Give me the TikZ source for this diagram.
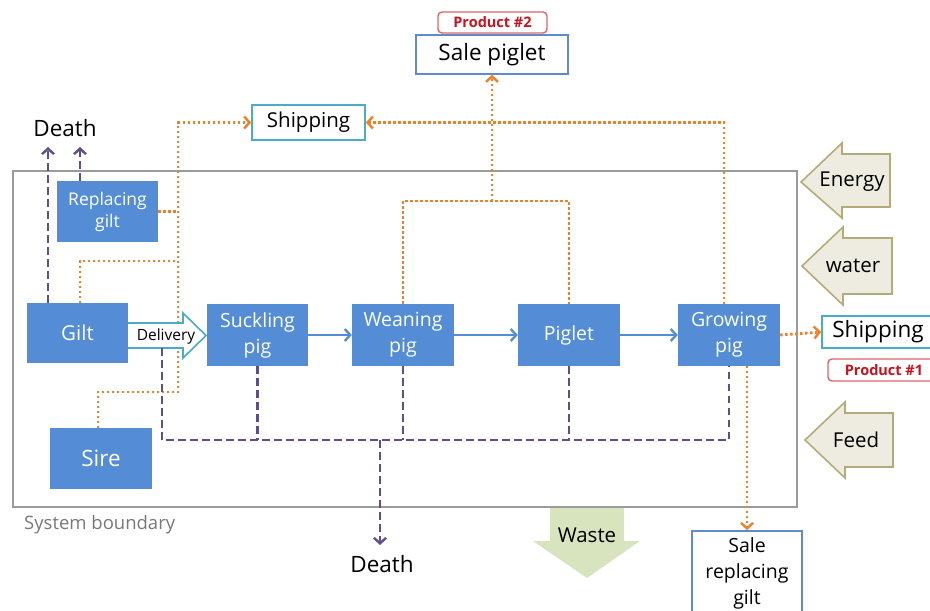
\documentclass[tikz,border=0pt]{standalone}
\usepackage{fontspec}
\setmainfont{Open Sans}
\usetikzlibrary{arrows.meta}
\definecolor{boxblue}{RGB}{84,141,213}
\definecolor{dpurple}{RGB}{96,78,140}
\definecolor{dorange}{RGB}{240,128,40}
\definecolor{teal}{RGB}{75,172,198}
\definecolor{salebl}{RGB}{95,140,200}
\definecolor{prodred}{RGB}{200,20,30}
\definecolor{prodborder}{RGB}{220,100,110}
\definecolor{bgray}{RGB}{155,155,155}
\definecolor{tgray}{RGB}{120,120,120}
\definecolor{beige}{RGB}{238,236,225}
\definecolor{beigeedge}{RGB}{180,172,120}
\definecolor{wastegreen}{RGB}{215,228,189}
\begin{document}
\begin{tikzpicture}[x=1pt,y=-1pt,
  fs/.style n args={2}{font=\fontsize{#1}{#2}\selectfont},
  bbox/.style={fill=boxblue,text=white,inner sep=0pt,align=center},
  wbox/.style={fill=white,inner sep=0pt,align=center,line width=1.6pt},
  prod/.style={draw=prodborder,fill=white,rounded corners=4pt,line width=1.4pt,text=prodred,inner sep=0pt,font=\fontsize{14.5}{16}\selectfont\bfseries},
  pdash/.style={draw=dpurple,line width=2.6pt,dash pattern=on 7.5pt off 4.5pt},
  odot/.style={draw=dorange,line width=2.8pt,dash pattern=on 2.4pt off 2.6pt},
  tip/.style={-{Straight Barb[length=5.5pt,width=12pt,line width=2.4pt]}},
  bluearrow/.style={draw=boxblue,line width=2.3pt,-{Straight Barb[length=5.5pt,width=12pt,line width=2.3pt]}},
  inarrow/.style={fill=beige,draw=beigeedge,line width=1.6pt,line join=miter}
]
\useasboundingbox (0,0) rectangle (930,611);

% system boundary
\draw[bgray,line width=2.4pt] (13,171) rectangle (797,507);
\node[text=tgray,fs={18.5}{22},anchor=west,inner sep=0pt] (sysb) at (24,525) {System boundary};

% boxes
\node[bbox,minimum width=101pt,minimum height=61pt,fs={17.5}{22}] (rg) at (107.5,211.5) {Replacing\\gilt};
\node[bbox,minimum width=101pt,minimum height=60pt,fs={20.5}{26}] (gilt) at (77.5,333) {Gilt};
\node[bbox,minimum width=101pt,minimum height=62pt,fs={19.5}{26}] (suck) at (257.5,335) {Suckling\\pig};
\node[bbox,minimum width=102pt,minimum height=62pt,fs={19.5}{26}] (wean) at (403,335) {Weaning\\pig};
\node[bbox,minimum width=102pt,minimum height=62pt,fs={19.5}{26}] (piglet) at (569,335) {Piglet};
\node[bbox,minimum width=102pt,minimum height=62pt,fs={19.5}{26}] (grow) at (729,335) {Growing\\pig};
\node[bbox,minimum width=102pt,minimum height=61pt,fs={22.5}{26}] (sire) at (101,458.5) {Sire};

\node[wbox,draw=teal,minimum width=113pt,minimum height=35pt,fs={20.5}{24}] (ship1) at (308.5,122.5) {Shipping};
\node[wbox,draw=salebl,minimum width=152pt,minimum height=39pt,fs={22.5}{26}] (salep) at (492,54.5) {Sale piglet};
\node[prod,minimum width=109pt,minimum height=21pt] (prod2) at (492.5,22.5) {Product \#2};
\node[wbox,draw=teal,minimum width=112pt,minimum height=32pt,fs={22.5}{26}] (ship2) at (878,332) {Shipping};
\node[prod,minimum width=112pt,minimum height=22pt] (prod1) at (884,370) {Product \#1};
\node[wbox,draw=salebl,minimum width=110pt,minimum height=92pt,anchor=north] (salerg) at (747,530) {};
\node[fs={19.5}{26},align=center] (salergt) at (747,573) {Sale\\replacing\\gilt};

\node[fs={22.5}{26}] (death1) at (65,128) {Death};
\node[fs={22.5}{26}] (death2) at (382,564) {Death};

% input / output arrows
\draw[inarrow] (801,182) -- (842,143) -- (842,154) -- (890,154) -- (890,207) -- (842,207) -- (842,218) -- cycle;
\node[fs={20.5}{24}] (energy) at (852,182) {Energy};
\draw[inarrow] (802,266) -- (843,227) -- (843,238) -- (892,238) -- (892,294) -- (843,294) -- (843,305) -- cycle;
\node[fs={20.5}{24}] (water) at (853,266) {water};
\draw[inarrow] (805,440) -- (845,402) -- (845,413) -- (893,413) -- (893,467) -- (845,467) -- (845,478) -- cycle;
\node[fs={20.5}{24}] (feed) at (856,440) {Feed};
\fill[wastegreen] (550,508) -- (624,508) -- (624,541) -- (640,541) -- (587,578) -- (533,541) -- (550,541) -- cycle;
\node[fs={20.5}{24}] (waste) at (587,535) {Waste};

% coordinates
\coordinate (dA) at (48,147);
\coordinate (dB) at (80,147);
\coordinate (dl) at (162,348);
\coordinate (bus) at (729,440);
\coordinate (busD) at (380,440);
\coordinate (dD) at (380,545);
\coordinate (oV) at (178,392);
\coordinate (oG) at (178,261);
\coordinate (oR) at (178,211.5);
\coordinate (oS) at (98,428);
\coordinate (oGx) at (80,303);
\coordinate (brk) at (492,201);
\coordinate (oGr) at (724,304);
\coordinate (oGb) at (747,366);

% orange dotted flows
\draw[odot] (rg.east) -- (oR);
\draw[odot] (oGx) |- (oG);
\draw[odot,tip] (oS) |- (oV) |- (ship1.west);
\draw[odot] (wean.north) |- (brk) -| (piglet.north);
\draw[odot,tip] (brk) -- (salep.south);
\draw[odot,tip] (oGr) |- (ship1.east);
\draw[odot,tip] (grow.east) -- (ship2.west);
\draw[odot,tip] (oGb) -- (salerg.north -| oGb);

% delivery arrow
\draw[fill=white,draw=teal,line width=1.6pt,line join=miter] (128,323) -- (183,323) -- (183,313) -- (206,335.5) -- (183,358) -- (183,348) -- (128,348);
\node[fs={15.5}{18},inner sep=0pt] (deliv) at (166,336) {Delivery};

% purple dashed death flows
\draw[pdash,tip] (gilt.north -| dA) -- (dA);
\draw[pdash,tip] (rg.north -| dB) -- (dB);
\draw[pdash] (dl) |- (bus) -- (grow.south);
\draw[pdash] (suck.south) -- (suck.south |- bus);
\draw[pdash] (wean.south) -- (wean.south |- bus);
\draw[pdash] (piglet.south) -- (piglet.south |- bus);
\draw[pdash,tip] (busD) -- (dD);

% blue flow arrows
\draw[bluearrow] (suck.east) -- (wean.west);
\draw[bluearrow] (wean.east) -- (piglet.west);
\draw[bluearrow] (piglet.east) -- (grow.west);
\end{tikzpicture}
\end{document}
